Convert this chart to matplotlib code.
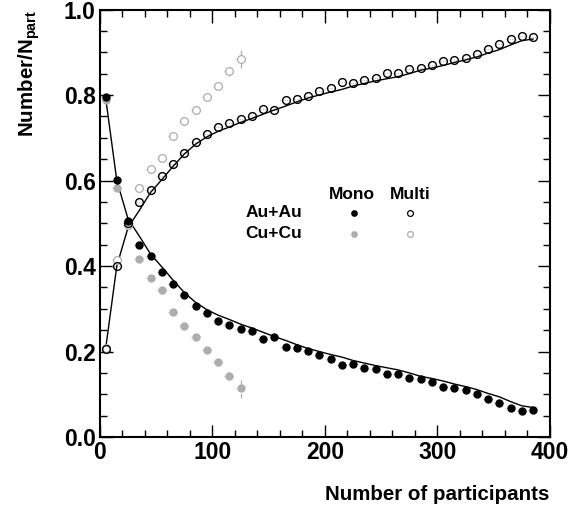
import numpy as np
import matplotlib.pyplot as plt

plt.rcParams['font.family'] = ['Liberation Sans', 'DejaVu Sans']
plt.rcParams['font.weight'] = 'bold'
plt.rcParams['mathtext.fontset'] = 'custom'
plt.rcParams['mathtext.rm'] = 'Liberation Sans:bold'
plt.rcParams['mathtext.it'] = 'Liberation Sans:bold'
plt.rcParams['mathtext.bf'] = 'Liberation Sans:bold'

# Au+Au centrality bins (N_part)
npart_au = np.arange(5, 386, 10)
mono_au = [0.795, 0.601, 0.505, 0.449, 0.423, 0.386, 0.359, 0.333, 0.307, 0.289,
           0.272, 0.263, 0.253, 0.247, 0.230, 0.233, 0.210, 0.208, 0.201, 0.191,
           0.183, 0.168, 0.171, 0.162, 0.159, 0.147, 0.147, 0.139, 0.135, 0.129,
           0.118, 0.115, 0.110, 0.101, 0.090, 0.080, 0.067, 0.061, 0.063]
multi_au = [0.205, 0.400, 0.500, 0.550, 0.577, 0.611, 0.639, 0.664, 0.691, 0.709,
            0.725, 0.734, 0.744, 0.752, 0.768, 0.765, 0.789, 0.790, 0.798, 0.809,
            0.816, 0.830, 0.827, 0.835, 0.840, 0.851, 0.851, 0.860, 0.863, 0.870,
            0.880, 0.882, 0.887, 0.896, 0.908, 0.919, 0.931, 0.938, 0.935]

# model curves for Au+Au
mono_model = [0.795, 0.600, 0.510, 0.470, 0.428, 0.398, 0.367, 0.338, 0.315, 0.298,
              0.285, 0.275, 0.264, 0.255, 0.245, 0.235, 0.226, 0.216, 0.207, 0.200,
              0.193, 0.187, 0.179, 0.173, 0.167, 0.162, 0.157, 0.150, 0.142, 0.137,
              0.131, 0.124, 0.118, 0.111, 0.102, 0.094, 0.083, 0.073, 0.069]
multi_model = [0.205, 0.400, 0.490, 0.530, 0.572, 0.602, 0.633, 0.662, 0.685, 0.702,
               0.715, 0.725, 0.736, 0.745, 0.755, 0.765, 0.774, 0.784, 0.793, 0.800,
               0.807, 0.813, 0.821, 0.827, 0.833, 0.838, 0.843, 0.850, 0.858, 0.863,
               0.869, 0.876, 0.882, 0.889, 0.898, 0.906, 0.917, 0.927, 0.931]

# Cu+Cu
npart_cu = np.arange(5, 126, 10)
mono_cu = [0.788, 0.583, 0.497, 0.417, 0.371, 0.345, 0.292, 0.259, 0.233, 0.203,
           0.176, 0.143, 0.114]
multi_cu = [0.208, 0.414, 0.497, 0.582, 0.626, 0.653, 0.705, 0.739, 0.765, 0.795,
            0.822, 0.855, 0.884]
err_cu = [0.0, 0.0, 0.0, 0.0, 0.0, 0.0, 0.0, 0.0, 0.0, 0.0,
          0.0, 0.010, 0.022]

fig = plt.figure(figsize=(5.71, 5.11), dpi=100)
ax = fig.add_axes([0.175, 0.1448, 0.788, 0.8366])

grey = '0.68'


def draw(x, y, **kw):
    eb = ax.errorbar(x, y, xerr=4.5, fmt='o', ecolor='0.65',
                     elinewidth=0.6, capsize=0, **kw)
    for lc in eb[2]:
        lc.set_linestyle(':')
    return eb


# Cu+Cu points, vertical errors drawn behind the markers
for yv in (mono_cu, multi_cu):
    eb = ax.errorbar(npart_cu, yv, yerr=err_cu, fmt='none', ecolor=grey,
                     elinewidth=0.9, capsize=0)
    eb[2][0].set_linestyle('--')
draw(npart_cu, mono_cu, ms=5.0, mfc=grey, mec=grey, color=grey)
draw(npart_cu, multi_cu, ms=5.6, mfc='white', mec=grey, mew=0.9, color=grey)

# Au+Au points
draw(npart_au, mono_au, ms=5.0, mfc='black', mec='black', color='black')
draw(npart_au, multi_au, ms=5.6, mfc='none', mec='black', mew=1.0, color='black')

# model lines
ax.plot(npart_au, mono_model, color='black', lw=1.0)
ax.plot(npart_au, multi_model, color='black', lw=1.0)

# legend block
ax.text(0.56, 0.568, 'Mono', transform=ax.transAxes, ha='center', va='center',
        fontsize=12.5, fontweight='bold')
ax.text(0.689, 0.568, 'Multi', transform=ax.transAxes, ha='center', va='center',
        fontsize=12.5, fontweight='bold')
ax.text(0.449, 0.524, 'Au+Au', transform=ax.transAxes, ha='right', va='center',
        fontsize=12.5, fontweight='bold')
ax.text(0.449, 0.476, 'Cu+Cu', transform=ax.transAxes, ha='right', va='center',
        fontsize=12.5, fontweight='bold')
ax.plot([0.564], [0.524], 'o', transform=ax.transAxes, ms=3.8, color='black')
ax.plot([0.689], [0.524], 'o', transform=ax.transAxes, ms=4.2, mfc='none',
        mec='black', mew=0.9)
ax.plot([0.564], [0.476], 'o', transform=ax.transAxes, ms=3.8, color=grey)
ax.plot([0.689], [0.476], 'o', transform=ax.transAxes, ms=4.2, mfc='none',
        mec=grey, mew=0.9)

ax.set_xlim(0, 400)
ax.set_ylim(0, 1.0)
ax.set_xticks(np.arange(0, 401, 100))
ax.set_xticks(np.arange(0, 401, 20), minor=True)
ax.set_yticks(np.arange(0, 1.01, 0.2))
ax.set_yticks(np.arange(0, 1.01, 0.05), minor=True)
ax.set_yticklabels(['0.0', '0.2', '0.4', '0.6', '0.8', '1.0'])
ax.tick_params(which='both', direction='in', top=True, right=True, width=1.0)
ax.tick_params(which='major', length=9, labelsize=16.5, pad=3)
ax.tick_params(which='minor', length=5)
for lab in ax.get_xticklabels() + ax.get_yticklabels():
    lab.set_fontweight('bold')
for s in ax.spines.values():
    s.set_linewidth(1.5)

ax.set_xlabel('Number of participants', fontsize=14.8, fontweight='bold',
              loc='right', labelpad=15)
ax.set_ylabel(r'Number/N$_{\rm part}$', fontsize=14.8, fontweight='bold',
              loc='top', labelpad=16)

fig.savefig('out.png', dpi=100)
